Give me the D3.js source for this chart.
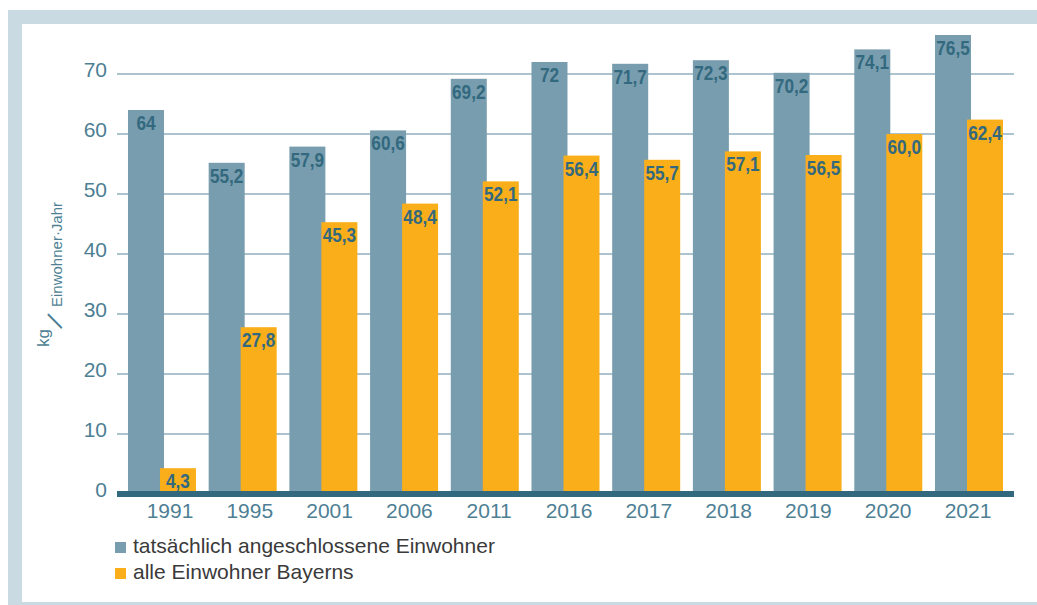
<!DOCTYPE html>
<html><head><meta charset="utf-8">
<script src="https://cdn.jsdelivr.net/npm/d3@7"></script>
<style>html,body{margin:0;padding:0;background:#fff;}svg{display:block;}</style>
</head><body>
<svg id="chart" width="1037" height="605"></svg>
<script>
const years = ["1991","1995","2001","2006","2011","2016","2017","2018","2019","2020","2021"];
const connected = [64, 55.2, 57.9, 60.6, 69.2, 72, 71.7, 72.3, 70.2, 74.1, 76.5];
const allBavaria = [4.3, 27.8, 45.3, 48.4, 52.1, 56.4, 55.7, 57.1, 56.5, 60.0, 62.4];
const connectedLabels = ["64","55,2","57,9","60,6","69,2","72","71,7","72,3","70,2","74,1","76,5"];
const allLabels = ["4,3","27,8","45,3","48,4","52,1","56,4","55,7","57,1","56,5","60,0","62,4"];
const yTicks = [0, 10, 20, 30, 40, 50, 60, 70];
const legendLabels = ["tatsächlich angeschlossene Einwohner", "alle Einwohner Bayerns"];

const colGrey = "#789dae", colOrange = "#f9ae1a", colDark = "#33697f", colTick = "#4e7f94";
const sans = "Liberation Sans, Arial, sans-serif";
const svg = d3.select("#chart");

// frame
svg.append("rect").attr("x", 15).attr("y", 17).attr("width", 1100).attr("height", 592)
  .attr("fill", "#fff").attr("stroke", "#c9dae2").attr("stroke-width", 14);

const y = d3.scaleLinear().domain([0, 70]).range([494, 74]);
const x = d3.scaleBand().domain(years).range([117, 1014]).paddingInner(0.157).paddingOuter(0.136);
const xl = d3.scalePoint().domain(years).range([170, 968]);
const barW = 36, shift = 32;

// gridlines
svg.append("g").selectAll("line").data(yTicks.filter(d => d > 0)).join("line")
  .attr("x1", 117).attr("x2", 1014).attr("y1", d => y(d)).attr("y2", d => y(d))
  .attr("stroke", "#8fb0c0").attr("stroke-width", 1.6);

// y tick labels
svg.append("g").selectAll("text").data(yTicks).join("text")
  .attr("x", 107).attr("y", d => y(d) + 3).attr("text-anchor", "end")
  .attr("font-family", sans).attr("font-size", 21)
  .attr("fill", colTick).text(d => d);

// bars
const g = svg.append("g");
g.selectAll("rect.c").data(years).join("rect").attr("class", "c")
  .attr("x", d => x(d)).attr("width", barW)
  .attr("y", (d, i) => y(connected[i])).attr("height", (d, i) => y(0) - y(connected[i]))
  .attr("fill", colGrey);
g.selectAll("rect.a").data(years).join("rect").attr("class", "a")
  .attr("x", d => x(d) + shift).attr("width", barW)
  .attr("y", (d, i) => y(allBavaria[i])).attr("height", (d, i) => y(0) - y(allBavaria[i]))
  .attr("fill", colOrange);

function valueLabels(cls, vals, labels, off) {
  g.selectAll("text." + cls).data(years).join("text").attr("class", cls)
    .attr("transform", (d, i) => `translate(${x(d) + off + barW / 2},${y(vals[i]) + 20}) scale(0.82,1)`)
    .attr("text-anchor", "middle").attr("font-family", sans).attr("font-weight", "bold")
    .attr("font-size", 21).attr("fill", colDark).text((d, i) => labels[i]);
}
valueLabels("c", connected, connectedLabels, 0);
valueLabels("a", allBavaria, allLabels, shift);

// baseline
svg.append("line").attr("x1", 117).attr("x2", 1014).attr("y1", y(0)).attr("y2", y(0))
  .attr("stroke", colDark).attr("stroke-width", 6);

// x labels
svg.append("g").selectAll("text").data(years).join("text")
  .attr("x", d => xl(d)).attr("y", 518).attr("text-anchor", "middle")
  .attr("font-family", sans).attr("font-size", 21)
  .attr("fill", colTick).text(d => d);

// y axis title
const t = svg.append("text").attr("transform", "translate(62,347) rotate(-90)")
  .attr("font-family", sans).attr("fill", colTick);
t.append("tspan").attr("x", 0).attr("y", -13).attr("font-size", 17).text("kg");
t.append("tspan").attr("x", 18).attr("y", -1).attr("font-size", 26).attr("rotate", 30).text("/");
t.append("tspan").attr("x", 40).attr("y", 0).attr("font-size", 15).text("Einwohner·Jahr");

// legend
const lg = svg.append("g");
legendLabels.forEach((lab, i) => {
  lg.append("rect").attr("x", 115).attr("y", 542 + i * 26).attr("width", 11).attr("height", 11)
    .attr("fill", i === 0 ? colGrey : colOrange);
  lg.append("text").attr("x", 133).attr("y", 553 + i * 26)
    .attr("font-family", sans).attr("font-size", 21)
    .attr("fill", "#3a3a3a").text(lab);
});
</script>
</body></html>
